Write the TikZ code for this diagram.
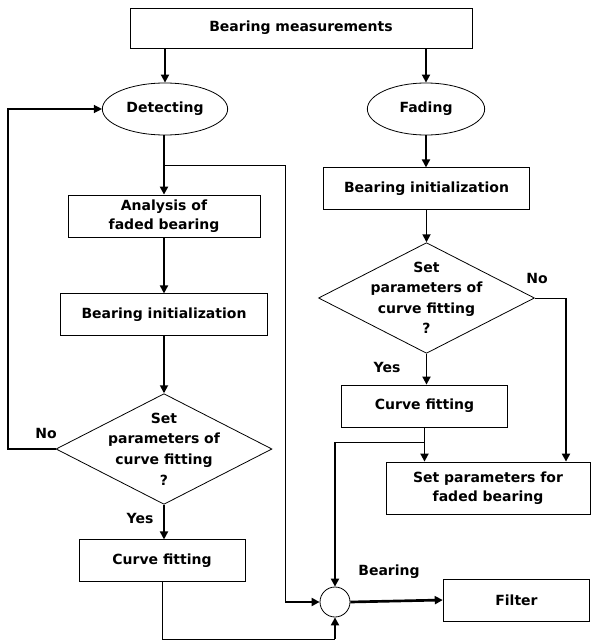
\documentclass[tikz,border=0pt]{standalone}
\usepackage{fontspec}
\setmainfont{DejaVu Sans}
\usetikzlibrary{shapes, arrows.meta, positioning, calc}

\begin{document}
\begin{tikzpicture}[x=0.75pt, y=-0.75pt,
        box/.style={rectangle, draw=black, line width=0.6pt, align=center, font=\fontsize{10.5}{14}\selectfont\bfseries},
        oval/.style={ellipse, draw=black, line width=0.6pt, minimum height=39pt, font=\fontsize{10.5}{14}\selectfont\bfseries},
        ask/.style={diamond, draw=black, line width=0.6pt, aspect=1.95, inner sep=-16pt, minimum width=162pt, minimum height=83pt, align=center, font=\fontsize{10.5}{15.4}\selectfont\bfseries},
        lbl/.style={font=\fontsize{10.5}{14}\selectfont\bfseries, inner sep=1pt},
        arrow/.style={-{Triangle[length=6pt, width=6pt]}, line width=1.3pt, draw=black},
        heavy/.style={-{Triangle[length=6pt, width=6pt]}, line width=2pt, draw=black},
        wire/.style={line width=0.6pt, draw=black}
    ]
        \useasboundingbox (0,0) rectangle (591,642);

        % Entrada
        \node [box, minimum width=256.5pt, minimum height=30pt] (meas) at (301,28) {Bearing measurements};

        % Rama izquierda
        \node [oval, minimum width=94pt] (detect) at (165,109) {Detecting};
        \node [box, minimum width=144pt, minimum height=31.5pt] (analysis) at (164,216) {Analysis of\\faded bearing};
        \node [box, minimum width=155pt, minimum height=31pt] (initL) at (164,314.5) {Bearing initialization};
        \node [ask] (askL) at (164,449) {Set\\parameters of\\curve fitting\\?};
        \node [box, minimum width=124.5pt, minimum height=31pt] (fitL) at (162,560.5) {Curve fitting};

        % Rama derecha
        \node [oval, minimum width=88pt] (fade) at (426,109) {Fading};
        \node [box, minimum width=155pt, minimum height=31pt] (initR) at (426.5,188.5) {Bearing initialization};
        \node [ask] (askR) at (426.5,298) {Set\\parameters of\\curve fitting\\?};
        \node [box, minimum width=125pt, minimum height=31.5pt] (fitR) at (424.5,406) {Curve fitting};
        \node [box, minimum width=153pt, minimum height=39pt] (setpar) at (488,488) {Set parameters for\\faded bearing};

        % Salida
        \node [circle, draw=black, line width=0.6pt, minimum size=22.5pt, inner sep=0pt] (sum) at (335,602) {};
        \node [box, minimum width=110pt, minimum height=31.5pt] (filter) at (516.5,600) {Filter};

        % Etiquetas
        \node [lbl] (noL) at (46,433) {No};
        \node [lbl] (yesL) at (140,518) {Yes};
        \node [lbl] (noR) at (537,278) {No};
        \node [lbl] (yesR) at (387,367) {Yes};
        \node [lbl] (bearing) at (389,572) {Bearing};

        % Puntos de paso
        \coordinate (tap) at ($(detect.south -| analysis.north)!0.5!(analysis.north)$);
        \coordinate (bypass) at (285,602);
        \coordinate (loop) at (8,449);
        \coordinate (under) at (335,639);
        \coordinate (tapR) at (424.5,442);
        \coordinate (turn) at (566,298);

        % Flujo izquierdo
        \draw [arrow] (meas.south -| detect) -- (detect.north);
        \draw [heavy] (detect.south -| analysis.north) -- (analysis.north);
        \draw [wire] (tap) -| (bypass);
        \draw [heavy] (bypass) -- (sum.west);
        \draw [arrow] (analysis.south) -- (initL.north);
        \draw [arrow] (initL.south) -- (askL.north);
        \draw [arrow, line width=1pt] (askL.west) -- (loop) |- (detect.west);
        \draw [arrow] (askL.south) -- (askL.south |- fitL.north);
        \draw [wire] (fitL.south) |- (under);
        \draw [heavy] (under) -- (sum.south);

        % Flujo derecho
        \draw [arrow] (meas.south -| fade) -- (fade.north);
        \draw [arrow] (fade.south) -- (fade.south |- initR.north);
        \draw [arrow] (initR.south) -- (askR.north);
        \draw [arrow] (askR.south) -- (askR.south |- fitR.north);
        \draw [arrow] (fitR.south) -- (fitR.south |- setpar.north);
        \draw [wire] (tapR) -- (tapR -| sum);
        \draw [heavy] (tapR -| sum) -- (sum.north);
        \draw [wire] (askR.east) -- (turn);
        \draw [heavy] (turn) -- (turn |- setpar.north);

        % Hacia el filtro
        \draw [heavy] (sum.east) -- (filter.west);
    \end{tikzpicture}
\end{document}
